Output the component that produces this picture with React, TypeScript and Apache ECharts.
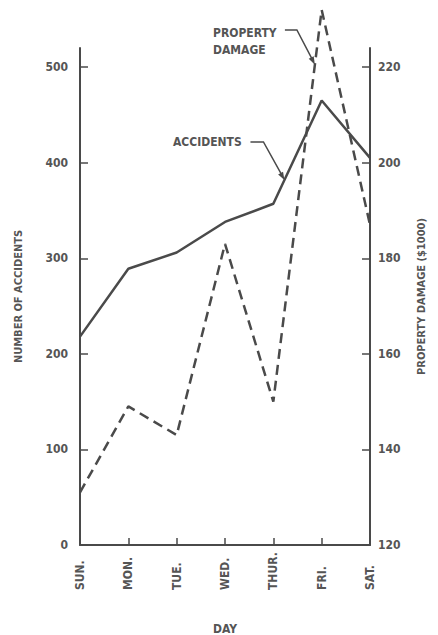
import React, { useEffect, useRef } from "react";
import * as echarts from "echarts";

const days = ["SUN.", "MON.", "TUE.", "WED.", "THUR.", "FRI.", "SAT."];
const accidents = [218, 289, 306, 338, 357, 465, 405];
const damage = [131, 149, 143, 183, 150, 232, 187];
const leftTicks = [0, 100, 200, 300, 400, 500];
const rightTicks = [120, 140, 160, 180, 200, 220];

const INK = "#4a4a4a";
const TXT = "#555555";
const FONT = "'DejaVu Sans Condensed', 'DejaVu Sans', sans-serif";

function arrowHead(tip: number[], from: number[], len = 8, half = 2.8) {
  const dx = tip[0] - from[0];
  const dy = tip[1] - from[1];
  const l = Math.hypot(dx, dy);
  const ux = dx / l, uy = dy / l;
  const bx = tip[0] - ux * len, by = tip[1] - uy * len;
  return [
    [tip[0], tip[1]],
    [bx - uy * half, by + ux * half],
    [bx + uy * half, by - ux * half],
  ];
}

export default function App() {
  const ref = useRef<HTMLDivElement>(null);
  useEffect(() => {
    document.body.style.margin = "0";
    const chart = echarts.init(ref.current!, null, { renderer: "svg" });
    const axisText = { color: TXT, fontFamily: FONT, fontWeight: "bold" as const, fontSize: 12 };
    chart.setOption({
      animation: false,
      backgroundColor: "#ffffff",
      grid: { left: 80, right: 68, top: 48, bottom: 90, containLabel: false, outerBoundsMode: "none" },
      xAxis: {
        type: "category",
        data: days,
        boundaryGap: false,
        name: "DAY",
        nameLocation: "middle",
        nameGap: 78,
        nameTextStyle: { ...axisText, fontSize: 12 },
        axisLine: { lineStyle: { color: INK, width: 2 } },
        axisTick: { inside: true, length: 7, lineStyle: { color: INK, width: 1.5 } },
        axisLabel: { ...axisText, rotate: 90, align: "left", verticalAlign: "middle", margin: 45 },
        splitLine: { show: false },
      },
      yAxis: [
        {
          type: "value",
          min: 0,
          max: 520,
          interval: 100,
          name: "NUMBER OF ACCIDENTS",
          nameLocation: "middle",
          nameRotate: 90,
          nameGap: 56,
          nameTextStyle: { ...axisText, fontSize: 11 },
          axisLine: { show: true, lineStyle: { color: INK, width: 2 } },
          axisTick: { show: true, inside: true, length: 8, customValues: leftTicks, lineStyle: { color: INK, width: 1.5 } },
          axisLabel: { ...axisText, margin: 12, customValues: leftTicks },
          splitLine: { show: false },
        },
        {
          type: "value",
          min: 120,
          max: 224,
          interval: 20,
          position: "right",
          name: "PROPERTY DAMAGE ($1000)",
          nameLocation: "middle",
          nameRotate: 90,
          nameGap: 46,
          nameTextStyle: { ...axisText, fontSize: 11 },
          axisLine: { show: true, lineStyle: { color: INK, width: 2 } },
          axisTick: { show: true, inside: true, length: 8, customValues: rightTicks, lineStyle: { color: INK, width: 1.5 } },
          axisLabel: { ...axisText, margin: 8, customValues: rightTicks },
          splitLine: { show: false },
        },
      ],
      series: [
        {
          name: "ACCIDENTS",
          type: "line",
          yAxisIndex: 0,
          data: accidents,
          symbol: "none",
          clip: false,
          lineStyle: { color: INK, width: 2.5 },
        },
        {
          name: "PROPERTY DAMAGE",
          type: "line",
          yAxisIndex: 1,
          data: damage,
          symbol: "none",
          clip: false,
          lineStyle: { color: INK, width: 2.5, type: [10, 6] },
        },
      ],
    });

    // annotations anchored to the data lines
    const pThu = chart.convertToPixel({ xAxisIndex: 0, yAxisIndex: 1 }, [4, damage[4]]) as number[];
    const pFri = chart.convertToPixel({ xAxisIndex: 0, yAxisIndex: 1 }, [5, damage[5]]) as number[];
    const aThu = chart.convertToPixel({ xAxisIndex: 0, yAxisIndex: 0 }, [4, accidents[4]]) as number[];
    const aFri = chart.convertToPixel({ xAxisIndex: 0, yAxisIndex: 0 }, [5, accidents[5]]) as number[];
    const tipOn = (a: number[], b: number[], t: number) => [a[0] + (b[0] - a[0]) * t, a[1] + (b[1] - a[1]) * t];
    const dTip = tipOn(pThu, pFri, 0.86);
    const aTip = tipOn(aThu, aFri, 0.23);
    const dElbow = [dTip[0] - 18, 30];
    const aElbow = [aTip[0] - 21, 142];
    const labelStyle = { fill: TXT, font: `bold 12px ${FONT}` };

    chart.setOption({
      graphic: [
        { type: "text", left: 213, top: 24, style: { ...labelStyle, text: "PROPERTY\nDAMAGE", lineHeight: 17 } },
        {
          type: "polyline",
          shape: { points: [[dElbow[0] - 12, 30], dElbow, [dTip[0] - 2, dTip[1] - 4]] },
          style: { stroke: INK, lineWidth: 1.5, fill: null },
        },
        { type: "polygon", shape: { points: arrowHead(dTip, dElbow) }, style: { fill: INK } },
        { type: "text", left: 173, top: 136, style: { ...labelStyle, text: "ACCIDENTS" } },
        {
          type: "polyline",
          shape: { points: [[aElbow[0] - 13, 142], aElbow, [aTip[0] - 2, aTip[1] - 4]] },
          style: { stroke: INK, lineWidth: 1.5, fill: null },
        },
        { type: "polygon", shape: { points: arrowHead(aTip, aElbow) }, style: { fill: INK } },
      ],
    });

    return () => chart.dispose();
  }, []);
  return <div ref={ref} style={{ width: 438, height: 635 }} />;
}
